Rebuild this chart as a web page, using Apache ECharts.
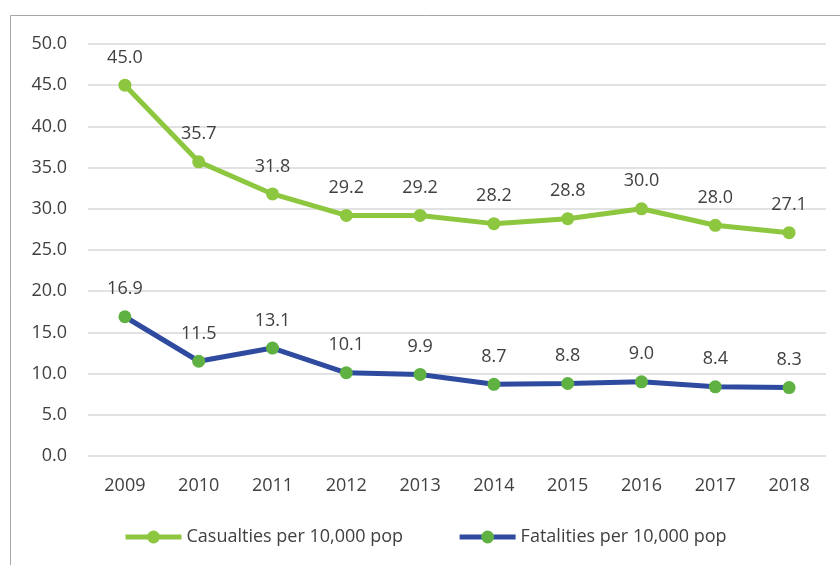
<!DOCTYPE html>
<html>
<head>
<meta charset="utf-8">
<script src="https://cdn.jsdelivr.net/npm/echarts@6/dist/echarts.min.js"></script>
<style>
  html, body { margin: 0; padding: 0; background: #fff; }
  #chart { width: 840px; height: 565px; }
</style>
</head>
<body>
<div id="chart"></div>
<script>
var years = ['2009', '2010', '2011', '2012', '2013', '2014', '2015', '2016', '2017', '2018']
var casualties = [45.0, 35.7, 31.8, 29.2, 29.2, 28.2, 28.8, 30.0, 28.0, 27.1]
var fatalities = [16.9, 11.5, 13.1, 10.1, 9.9, 8.7, 8.8, 9.0, 8.4, 8.3]

var font = 'Open Sans'
var textColor = '#404040'
var fs = 18

var chart = echarts.init(document.getElementById('chart'))

function labelOpt () {
  return {
    show: true,
    position: 'top',
    distance: 12,
    color: textColor,
    fontFamily: font,
    fontSize: fs,
    formatter: function (p) { return p.value.toFixed(1) }
  }
}

chart.setOption({
  animation: false,
  textStyle: { fontFamily: font },
  graphic: [{
    type: 'rect',
    shape: { x: 10.5, y: 15.5, width: 840, height: 560 },
    style: { fill: 'none', stroke: '#a6a6a6', lineWidth: 1 },
    silent: true
  }],
  grid: {
    left: 88,
    right: 14,
    top: 44,
    bottom: 109
  },
  legend: {
    bottom: 14,
    left: 118,
    itemWidth: 56,
    itemHeight: 16,
    itemGap: 54,
    textStyle: { color: textColor, fontSize: fs, fontFamily: font },
    data: [
      { name: 'Casualties per 10,000 pop', lineStyle: { width: 5 } },
      { name: 'Fatalities per 10,000 pop', lineStyle: { width: 5 } }
    ]
  },
  xAxis: {
    type: 'category',
    data: years,
    boundaryGap: true,
    axisLine: { show: false },
    axisTick: { show: false },
    axisLabel: { color: textColor, fontSize: fs, margin: 21 }
  },
  yAxis: {
    type: 'value',
    min: 0,
    max: 50,
    interval: 5,
    axisLine: { show: false },
    axisTick: { show: false },
    axisLabel: {
      color: textColor,
      fontSize: fs,
      margin: 21,
      formatter: function (v) { return v.toFixed(1) }
    },
    splitLine: { lineStyle: { color: '#d9d9d9', width: 1.5 } }
  },
  series: [{
    name: 'Casualties per 10,000 pop',
    type: 'line',
    data: casualties,
    symbol: 'circle',
    symbolSize: 13,
    lineStyle: { color: '#8dc63f', width: 5 },
    itemStyle: { color: '#8dc63f' },
    label: labelOpt()
  }, {
    name: 'Fatalities per 10,000 pop',
    type: 'line',
    data: fatalities,
    symbol: 'circle',
    symbolSize: 13,
    lineStyle: { color: '#2f4ba0', width: 5 },
    itemStyle: { color: '#5fb142' },
    label: labelOpt()
  }]
})
</script>
</body>
</html>
